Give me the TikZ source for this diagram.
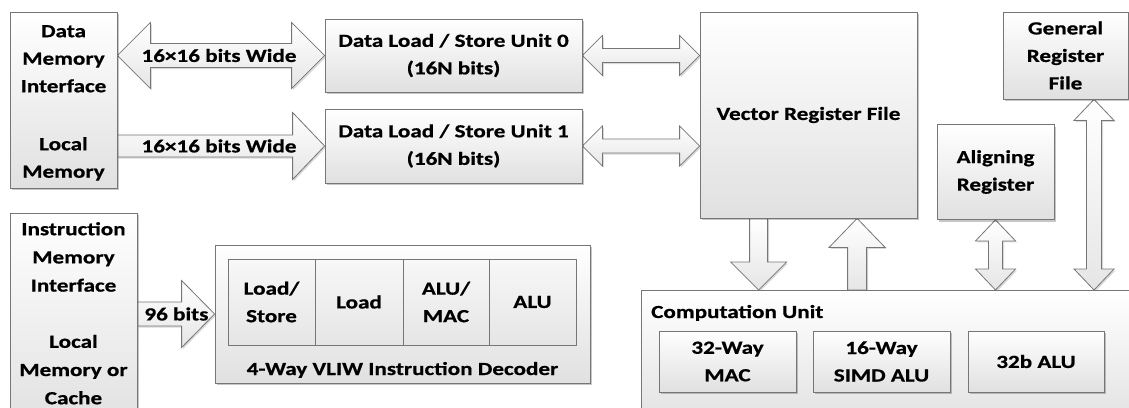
\documentclass[tikz,border=0pt]{standalone}
\usepackage{fontspec}
\setmainfont{Carlito}[FakeStretch=1.25, BoldFont={Carlito Bold}, BoldFeatures={FakeStretch=1.25, FakeBold=0.7}]
\usetikzlibrary{calc,shadows}
\definecolor{bordercol}{RGB}{118,118,118}
\pgfdeclarelayer{bg}
\pgfsetlayers{bg,main}
\newcommand\txtfont{\fontsize{18.5}{27.5}\selectfont\bfseries}
\tikzset{
  box/.style={draw=bordercol, line width=0.8pt, top color=white, bottom color=black!12,
    drop shadow={shadow xshift=2pt, shadow yshift=-2pt, fill=black, opacity=0.22},
    inner sep=0pt, align=center, font=\txtfont},
  cell/.style={draw=bordercol, line width=0.8pt, top color=black!3, bottom color=black!10,
    inner sep=0pt, align=center, font=\txtfont},
  lbl/.style={inner sep=0pt, align=center, font=\txtfont},
  blockarrow/.style={draw=bordercol, line width=0.8pt, top color=white, bottom color=black!10,
    drop shadow={shadow xshift=1.5pt, shadow yshift=-1.5pt, fill=black, opacity=0.15}}
}
% horizontal single arrow: #1 start, #2 tip, #3 shaft half, #4 head half, #5 head length
\newcommand\ArrR[5]{\draw[blockarrow] let \p1=#1, \p2=#2 in
  (\x1,\y1+#3) -- (\x2-#5,\y1+#3) -- (\x2-#5,\y1+#4) -- (\x2,\y1) -- (\x2-#5,\y1-#4)
  -- (\x2-#5,\y1-#3) -- (\x1,\y1-#3) -- cycle;}
\newcommand\DArrH[5]{\draw[blockarrow] let \p1=#1, \p2=#2 in
  (\x1,\y1) -- (\x1+#5,\y1+#4) -- (\x1+#5,\y1+#3) -- (\x2-#5,\y1+#3) -- (\x2-#5,\y1+#4)
  -- (\x2,\y1) -- (\x2-#5,\y1-#4) -- (\x2-#5,\y1-#3) -- (\x1+#5,\y1-#3) -- (\x1+#5,\y1-#4) -- cycle;}
% vertical double arrow: #1 top tip, #2 bottom tip
\newcommand\DArrV[5]{\draw[blockarrow] let \p1=#1, \p2=#2 in
  (\x1,\y1) -- (\x1+#4,\y1-#5) -- (\x1+#3,\y1-#5) -- (\x1+#3,\y2+#5) -- (\x1+#4,\y2+#5)
  -- (\x1,\y2) -- (\x1-#4,\y2+#5) -- (\x1-#3,\y2+#5) -- (\x1-#3,\y1-#5) -- (\x1-#4,\y1-#5) -- cycle;}
% down arrow: #1 top start, #2 bottom tip
\newcommand\ArrD[5]{\draw[blockarrow] let \p1=#1, \p2=#2 in
  (\x1-#3,\y1) -- (\x1+#3,\y1) -- (\x1+#3,\y2+#5) -- (\x1+#4,\y2+#5) -- (\x1,\y2)
  -- (\x1-#4,\y2+#5) -- (\x1-#3,\y2+#5) -- cycle;}
% up arrow: #1 bottom start, #2 top tip
\newcommand\ArrU[5]{\draw[blockarrow] let \p1=#1, \p2=#2 in
  (\x1-#3,\y1) -- (\x1+#3,\y1) -- (\x1+#3,\y2-#5) -- (\x1+#4,\y2-#5) -- (\x1,\y2)
  -- (\x1-#4,\y2-#5) -- (\x1-#3,\y2-#5) -- cycle;}
\begin{document}
\begin{tikzpicture}[x=1pt,y=-1pt]
\useasboundingbox (0,0) rectangle (1129,407);
\clip (0,0) rectangle (1129,407);
% boxes
\node[box, minimum width=107pt, minimum height=176pt] (dmi) at (63.5,100) {};
\node[lbl, anchor=north] (dmit) at (63.5,25) {Data\\Memory\\Interface\\[30.5pt]Local\\Memory};
\node[box, minimum width=257pt, minimum height=73pt] (ls0) at (453.5,55.5) {Data Load / Store Unit 0\\(16N bits)};
\node[box, minimum width=257pt, minimum height=74pt] (ls1) at (453.5,146) {Data Load / Store Unit 1\\(16N bits)};
\node[box, minimum width=217pt, minimum height=206pt] (vrf) at (808.5,115) {Vector Register File};
\node[box, minimum width=125pt, minimum height=87pt] (grf) at (1065.5,55.5) {General\\Register\\File};
\node[box, minimum width=117pt, minimum height=95pt] (alr) at (995.5,172) {Aligning\\Register};
\node[box, minimum width=127pt, minimum height=217pt] (imi) at (73.5,321.5) {};
\node[lbl, anchor=north, font=\fontsize{18.5}{28.2}\selectfont\bfseries] (imit) at (73.5,222) {Instruction\\Memory\\Interface\\[28pt]Local\\Memory or\\Cache};
\node[box, minimum width=375pt, minimum height=138pt] (vliw) at (402.5,314) {};
\node[cell, minimum width=87pt, minimum height=86pt] (c1) at (271.5,302) {Load/\\Store};
\node[cell, minimum width=88pt, minimum height=86pt] (c2) at (359,302) {Load};
\node[cell, minimum width=86pt, minimum height=86pt] (c3) at (446,302) {ALU/\\MAC};
\node[cell, minimum width=87pt, minimum height=86pt] (c4) at (532.5,302) {ALU};
\node[lbl, anchor=base] (vliwl) at (402.5,375) {4-Way VLIW Instruction Decoder};
\node[box, minimum width=520pt, minimum height=140pt, anchor=north west] (cu) at (641,290) {};
\node[lbl, anchor=base west] (cul) at (651,318) {Computation Unit};
\node[box, minimum width=137pt, minimum height=61pt] (mac) at (727.5,361.5) {32-Way\\MAC};
\node[box, minimum width=137pt, minimum height=61pt] (simd) at (881.5,361.5) {16-Way\\SIMD ALU};
\node[box, minimum width=136pt, minimum height=61pt] (alu) at (1036,361.5) {32b ALU};
% connector coordinates
\coordinate (d1) at ($(vrf.south west)+(59,0)$);
\coordinate (u1) at ($(vrf.south west)+(157.5,0)$);
\coordinate (g1) at ($(grf.south)+(28.5,0)$);
\begin{pgfonlayer}{bg}
\DArrH{(dmi.east |- ls0.west)}{(ls0.west)}{12pt}{33pt}{33pt}
\ArrR{(dmi.east |- ls1.west)}{(ls1.west)}{11pt}{33.5pt}{32pt}
\DArrH{(ls0.east)}{(vrf.west |- ls0.east)}{7pt}{20pt}{20pt}
\DArrH{(ls1.east)}{(vrf.west |- ls1.east)}{7pt}{20pt}{20pt}
\ArrD{(d1)}{(d1 |- cu.north)}{9pt}{28pt}{28pt}
\ArrU{(u1 |- cu.north)}{(u1)}{9.5pt}{28pt}{29pt}
\DArrV{(alr.south)}{(alr.south |- cu.north)}{7pt}{20pt}{21pt}
\DArrV{(g1)}{(g1 |- cu.north)}{7.5pt}{20pt}{21pt}
\ArrR{(imi.east |- vliw.west)}{(vliw.west)}{12pt}{33.5pt}{33pt}
\end{pgfonlayer}
% arrow labels
\node[lbl] (w0) at ($(dmi.east |- ls0.west)!0.5!(ls0.west)+(-2,0)$) {16×16 bits Wide};
\node[lbl] (w1) at ($(dmi.east |- ls1.west)!0.5!(ls1.west)+(-2,0)$) {16×16 bits Wide};
\node[lbl] (b96) at ($(imi.east |- vliw.west)+(39,0)$) {96 bits};
\end{tikzpicture}
\end{document}
